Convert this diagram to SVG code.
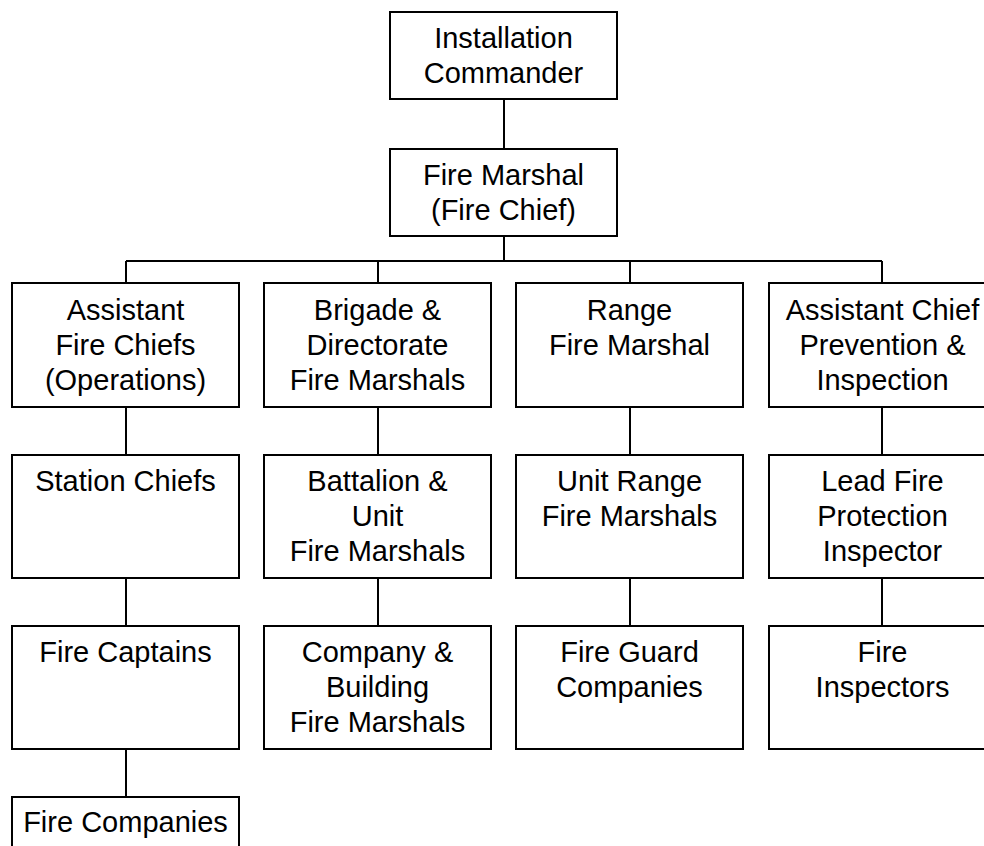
<svg xmlns="http://www.w3.org/2000/svg" width="984" height="846" viewBox="0 0 984 846">
<style>
rect.n{fill:#fff;stroke:#000;stroke-width:2}
text{font-family:"Liberation Sans",Arial,sans-serif;font-size:29px;fill:#000;text-anchor:middle}
#connectors path{fill:none;stroke:#000;stroke-width:2}
</style>
<rect width="984" height="846" fill="#fff"/>
<g id="connectors">
<path d="M504 99V149"/>
<path d="M504 236V261M126 261H882"/>
<path d="M126 261V283M378 261V283M630 261V283M882 261V283"/>
<path d="M126 407V455M378 407V455M630 407V455M882 407V455"/>
<path d="M126 578V626M378 578V626M630 578V626M882 578V626"/>
<path d="M126 749V797"/>
</g>
<g id="installation-commander"><rect class="n" x="390" y="12" width="227" height="87"/><text x="503.5" y="48">Installation</text><text x="503.5" y="83">Commander</text></g>
<g id="fire-marshal"><rect class="n" x="390" y="149" width="227" height="87"/><text x="503.5" y="185">Fire Marshal</text><text x="503.5" y="220">(Fire Chief)</text></g>

<g id="assistant-fire-chiefs"><rect class="n" x="12" y="283" width="227" height="124"/><text x="125.5" y="320">Assistant</text><text x="125.5" y="355">Fire Chiefs</text><text x="125.5" y="390">(Operations)</text></g>
<g id="brigade-directorate"><rect class="n" x="264" y="283" width="227" height="124"/><text x="377.5" y="320">Brigade &amp;</text><text x="377.5" y="355">Directorate</text><text x="377.5" y="390">Fire Marshals</text></g>
<g id="range-fire-marshal"><rect class="n" x="516" y="283" width="227" height="124"/><text x="629.5" y="320">Range</text><text x="629.5" y="355">Fire Marshal</text></g>
<g id="assistant-chief-prevention"><rect class="n" x="769" y="283" width="227" height="124"/><text x="882.5" y="320">Assistant Chief</text><text x="882.5" y="355">Prevention &amp;</text><text x="882.5" y="390">Inspection</text></g>

<g id="station-chiefs"><rect class="n" x="12" y="455" width="227" height="123"/><text x="125.5" y="491">Station Chiefs</text></g>
<g id="battalion-unit"><rect class="n" x="264" y="455" width="227" height="123"/><text x="377.5" y="491">Battalion &amp;</text><text x="377.5" y="526">Unit</text><text x="377.5" y="561">Fire Marshals</text></g>
<g id="unit-range"><rect class="n" x="516" y="455" width="227" height="123"/><text x="629.5" y="491">Unit Range</text><text x="629.5" y="526">Fire Marshals</text></g>
<g id="lead-fire-protection"><rect class="n" x="769" y="455" width="227" height="123"/><text x="882.5" y="491">Lead Fire</text><text x="882.5" y="526">Protection</text><text x="882.5" y="561">Inspector</text></g>

<g id="fire-captains"><rect class="n" x="12" y="626" width="227" height="123"/><text x="125.5" y="662">Fire Captains</text></g>
<g id="company-building"><rect class="n" x="264" y="626" width="227" height="123"/><text x="377.5" y="662">Company &amp;</text><text x="377.5" y="697">Building</text><text x="377.5" y="732">Fire Marshals</text></g>
<g id="fire-guard-companies"><rect class="n" x="516" y="626" width="227" height="123"/><text x="629.5" y="662">Fire Guard</text><text x="629.5" y="697">Companies</text></g>
<g id="fire-inspectors"><rect class="n" x="769" y="626" width="227" height="123"/><text x="882.5" y="662">Fire</text><text x="882.5" y="697">Inspectors</text></g>

<g id="fire-companies"><rect class="n" x="12" y="797" width="227" height="123"/><text x="125.5" y="832">Fire Companies</text></g>
</svg>
